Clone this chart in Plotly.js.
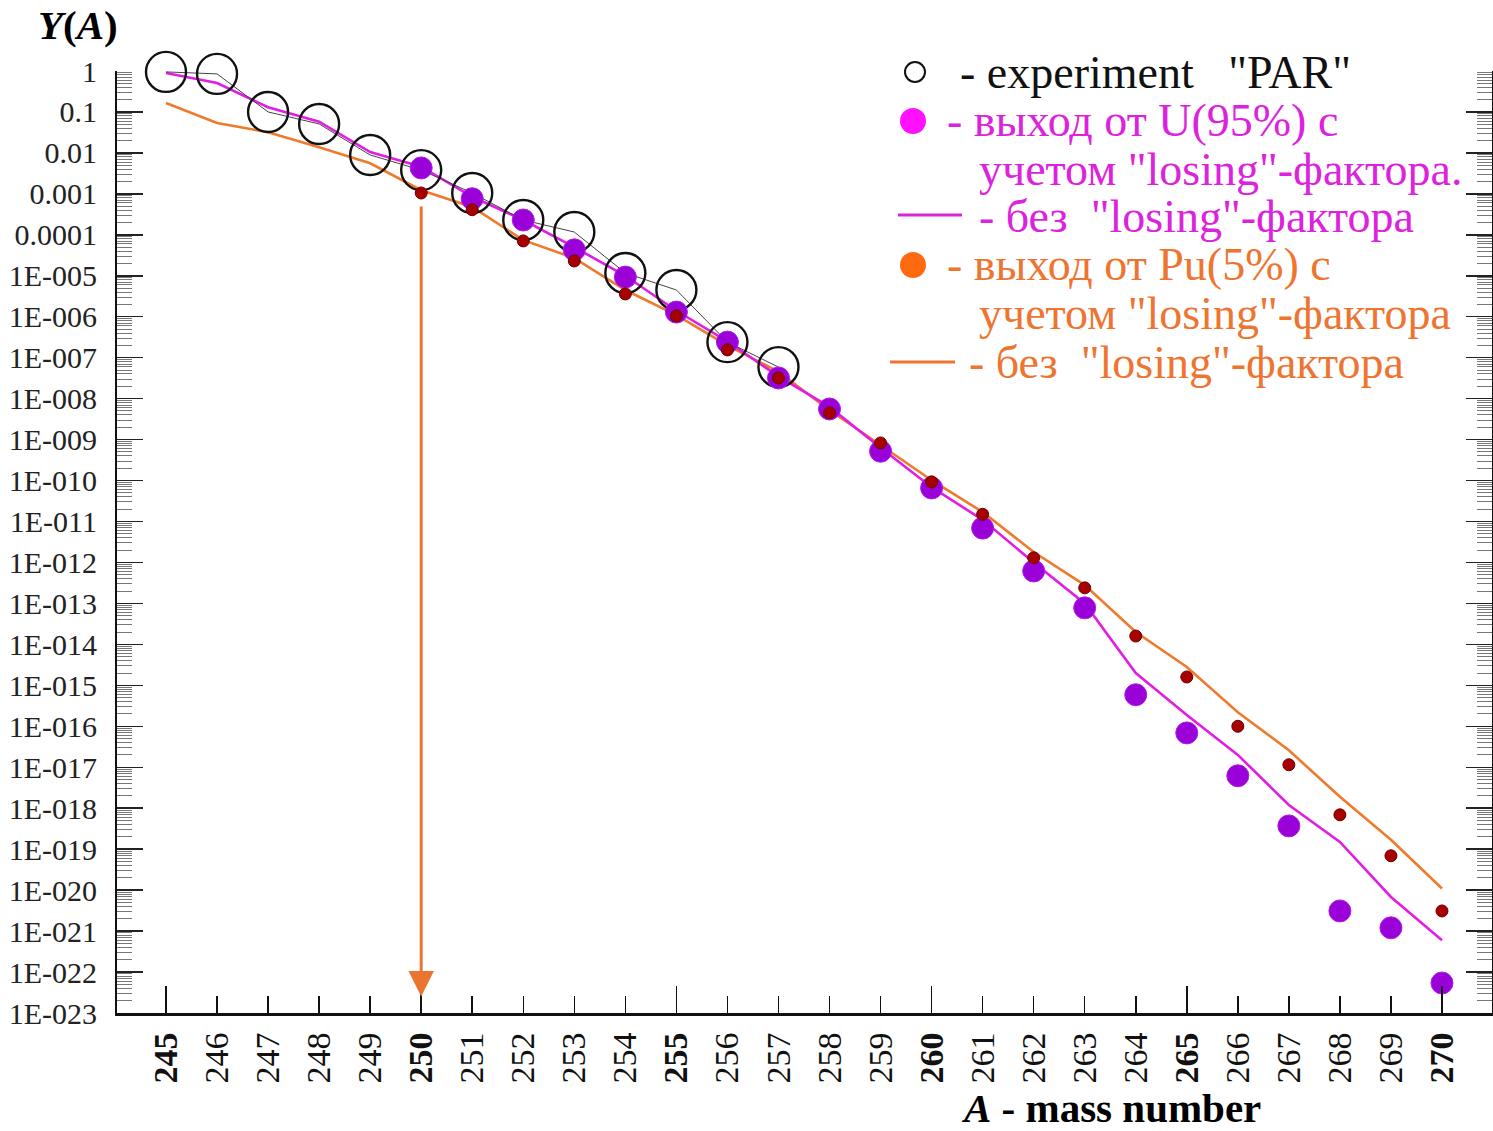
<!DOCTYPE html>
<html>
<head>
<meta charset="utf-8">
<script src="https://cdn.plot.ly/plotly-3.0.1.min.js"></script>
<style>
  html, body { margin: 0; padding: 0; background: #ffffff; }
  #chart { width: 1493px; height: 1131px; }
</style>
</head>
<body>
<div id="chart"></div>
<script>
// Mass numbers on the horizontal axis
const massNumbers = [245, 246, 247, 248, 249, 250, 251, 252, 253, 254, 255, 256, 257,
                     258, 259, 260, 261, 262, 263, 264, 265, 266, 267, 268, 269, 270];
const boldMassNumbers = [245, 250, 255, 260, 265, 270];

// Experiment "PAR"
const expA = [245, 246, 247, 248, 249, 250, 251, 252, 253, 254, 255, 256, 257];
const expY = [0.95, 0.85, 0.1, 0.051, 0.0089, 0.0038, 0.00105, 2.3e-4, 1.17e-4,
              1.17e-5, 4.5e-6, 2.4e-7, 5.9e-8];

// Yield from U(95%) with the "losing" factor
const uA = [250, 251, 252, 253, 254, 255, 256, 257, 258, 259, 260, 261, 262, 263,
            264, 265, 266, 267, 268, 269, 270];
const uY = [4.3e-3, 7.6e-4, 2.3e-4, 4.3e-5, 9.3e-6, 1.3e-6, 2.4e-7, 3.2e-8, 5.6e-9,
            5.2e-10, 6.6e-11, 6.9e-12, 6.2e-13, 7.8e-14, 5.9e-16, 6.9e-17, 6.2e-18,
            3.7e-19, 3.1e-21, 1.2e-21, 5.4e-23];

// U(95%) without the "losing" factor
const uNoLossY = [0.89, 0.51, 0.13, 0.058, 0.0105, 4.6e-3, 8.5e-4, 2.3e-4, 5.0e-5,
                  1.0e-5, 1.4e-6, 2.5e-7, 3.5e-8, 6.3e-9, 6.3e-10, 6.9e-11, 1.1e-11,
                  1.0e-12, 1.0e-13, 2.0e-15, 1.9e-16, 2.0e-17, 1.2e-18, 1.5e-19,
                  6.8e-21, 6.0e-22];

// Yield from Pu(5%) with the "losing" factor
const puA = [250, 251, 252, 253, 254, 255, 256, 257, 258, 259, 260, 261, 262, 263,
             264, 265, 266, 267, 268, 269, 270];
const puY = [1.05e-3, 4.1e-4, 7.1e-5, 2.3e-5, 3.6e-6, 1.05e-6, 1.55e-7, 3.2e-8, 4.5e-9,
             8.3e-10, 9.3e-11, 1.5e-11, 1.3e-12, 2.4e-13, 1.6e-14, 1.6e-15, 1.0e-16,
             1.15e-17, 6.9e-19, 6.9e-20, 3.1e-21];

// Pu(5%) without the "losing" factor
const puNoLossY = [0.166, 0.054, 0.032, 0.0138, 5.6e-3, 1.23e-3, 4.8e-4, 7.4e-5, 2.7e-5,
                   4.5e-6, 1.1e-6, 2.0e-7, 4.5e-8, 5.2e-9, 7.4e-10, 1.02e-10, 1.7e-11,
                   1.8e-12, 2.8e-13, 2.0e-14, 2.8e-15, 2.2e-16, 2.6e-17, 1.9e-18,
                   1.7e-19, 1.1e-20];

// Vertical axis labels
const yTickVals = [1, 1e-1, 1e-2, 1e-3, 1e-4, 1e-5, 1e-6, 1e-7, 1e-8, 1e-9, 1e-10, 1e-11,
                   1e-12, 1e-13, 1e-14, 1e-15, 1e-16, 1e-17, 1e-18, 1e-19, 1e-20, 1e-21,
                   1e-22, 1e-23];
const yTickText = ['1', '0.1', '0.01', '0.001', '0.0001', '1E-005', '1E-006', '1E-007',
                   '1E-008', '1E-009', '1E-010', '1E-011', '1E-012', '1E-013', '1E-014',
                   '1E-015', '1E-016', '1E-017', '1E-018', '1E-019', '1E-020', '1E-021',
                   '1E-022', '1E-023'];

// Arrow marking A = 250 (start/end in log10 of the yield)
const arrowA = 250;
const arrowFromLog = -3.27;
const arrowToLog = -22.6;

// Legend entries
const legendRows = [
  { text: '- experiment\u00a0\u00a0\u00a0"PAR"', color: '#111111' },
  { text: '- выход от U(95%) с', color: '#dd22dd' },
  { text: 'учетом "losing"-фактора.', color: '#dd22dd' },
  { text: '- без\u00a0\u00a0"losing"-фактора', color: '#dd22dd' },
  { text: '- выход от Pu(5%) с', color: '#ee7430' },
  { text: 'учетом "losing"-фактора', color: '#ee7430' },
  { text: '- без\u00a0\u00a0"losing"-фактора', color: '#ee7430' }
];

const FONT = '"Liberation Serif", "Times New Roman", Times, serif';

// Page geometry (pixels)
const W = 1493, H = 1131;
const M = { l: 117, r: 1, t: 71, b: 118 };
const PW = W - M.l - M.r, PH = H - M.t - M.b;
const px = (x) => (x - M.l) / PW;
const py = (y) => (H - M.b - y) / PH;

const traces = [
  {
    x: massNumbers, y: puNoLossY, mode: 'lines', type: 'scatter',
    line: { color: '#ef7a2c', width: 2.6 }, hoverinfo: 'x+y'
  },
  {
    x: massNumbers, y: uNoLossY, mode: 'lines', type: 'scatter',
    line: { color: '#e21ee2', width: 2.6 }, hoverinfo: 'x+y'
  },
  {
    x: expA, y: expY, mode: 'lines+markers', type: 'scatter',
    line: { color: '#444444', width: 1 },
    marker: { symbol: 'circle-open', size: 40, color: '#111111', line: { width: 2.4, color: '#111111' } },
    cliponaxis: false
  },
  {
    x: uA, y: uY, mode: 'markers', type: 'scatter',
    marker: { size: 22, color: '#9a00d8', line: { width: 1, color: '#b020e8' } },
    cliponaxis: false
  },
  {
    x: puA, y: puY, mode: 'markers', type: 'scatter',
    marker: { size: 12, color: '#a80000', line: { width: 1, color: '#6a0000' } },
    cliponaxis: false
  }
];

const xTickText = massNumbers.map(a => boldMassNumbers.includes(a) ? '<b>' + a + '</b>' : String(a));

const annotations = [
  {
    xref: 'paper', yref: 'paper', x: px(78), y: py(25),
    xanchor: 'center', yanchor: 'middle', showarrow: false,
    text: '<b><i>Y</i>(<i>A</i>)</b>', font: { family: FONT, size: 41, color: '#000' }
  },
  {
    xref: 'paper', yref: 'paper', x: px(1111), y: py(1108),
    xanchor: 'center', yanchor: 'middle', showarrow: false,
    text: '<b><i>A</i> - mass number</b>', font: { family: FONT, size: 41, color: '#000' }
  },
  {
    xref: 'x', yref: 'y', axref: 'x', ayref: 'y',
    x: arrowA, y: arrowToLog, ax: arrowA, ay: arrowFromLog,
    text: '', showarrow: true, arrowhead: 2, arrowsize: 1.7, arrowwidth: 3,
    arrowcolor: '#ea7430', standoff: 0, startstandoff: 0
  }
];

const legendX = [958, 945, 977, 977, 945, 977, 967];
const legendY = [72, 121, 170, 217, 265, 313, 362];
legendRows.forEach((row, i) => {
  annotations.push({
    xref: 'paper', yref: 'paper', x: px(legendX[i]), y: py(legendY[i]),
    xanchor: 'left', yanchor: 'middle', showarrow: false,
    text: row.text, font: { family: FONT, size: 46, color: row.color }
  });
});

const shapes = [
  { type: 'circle', xref: 'paper', yref: 'paper',
    x0: px(905), x1: px(925), y0: py(82), y1: py(62),
    line: { color: '#111', width: 2 }, fillcolor: 'rgba(0,0,0,0)' },
  { type: 'circle', xref: 'paper', yref: 'paper',
    x0: px(900), x1: px(926), y0: py(134), y1: py(108),
    line: { color: '#ff00ff', width: 0 }, fillcolor: '#ff10ff' },
  { type: 'line', xref: 'paper', yref: 'paper',
    x0: px(898), x1: px(962), y0: py(215), y1: py(215),
    line: { color: '#dd22dd', width: 3 } },
  { type: 'circle', xref: 'paper', yref: 'paper',
    x0: px(900), x1: px(926), y0: py(278), y1: py(252),
    line: { color: '#ff6a10', width: 0 }, fillcolor: '#ff6a10' },
  { type: 'line', xref: 'paper', yref: 'paper',
    x0: px(890), x1: px(955), y0: py(362), y1: py(362),
    line: { color: '#ee7430', width: 3 } }
];

const layout = {
  width: W, height: H,
  margin: M,
  paper_bgcolor: '#ffffff', plot_bgcolor: '#ffffff',
  showlegend: false,
  font: { family: FONT, color: '#222' },
  xaxis: {
    range: [244.04, 270.98], fixedrange: true,
    tickmode: 'array', tickvals: massNumbers, ticktext: xTickText,
    ticks: 'inside', ticklen: 17, tickwidth: 1.5, tickcolor: '#111',
    tickangle: -90, ticklabelstandoff: 3,
    tickfont: { family: FONT, size: 34, color: '#111' },
    showline: true, linecolor: '#111', linewidth: 3,
    showgrid: false, zeroline: false
  },
  xaxis2: {
    overlaying: 'x', anchor: 'y', side: 'bottom',
    range: [244.04, 270.98], fixedrange: true,
    tickmode: 'array', tickvals: boldMassNumbers,
    ticks: 'inside', ticklen: 27, tickwidth: 1.5, tickcolor: '#111',
    showticklabels: false, showline: false, showgrid: false, zeroline: false
  },
  yaxis: {
    type: 'log', range: [-23, 0], fixedrange: true,
    tickmode: 'array', tickvals: yTickVals, ticktext: yTickText,
    ticks: 'inside', ticklen: 26, tickwidth: 1.5, tickcolor: '#222',
    minor: { dtick: 'D1', ticks: 'inside', ticklen: 15, tickwidth: 1, tickcolor: '#777', showgrid: false },
    ticklabelstandoff: 12,
    tickfont: { family: FONT, size: 30, color: '#222' },
    showline: true, linecolor: '#111', linewidth: 2,
    mirror: 'ticks',
    showgrid: false, zeroline: false
  },
  annotations: annotations,
  shapes: shapes
};

// overlay axis carrying the longer ticks at every fifth mass number
traces.push({
  x: expA, y: expY, xaxis: 'x2', yaxis: 'y', mode: 'markers', type: 'scatter',
  marker: { size: 1, opacity: 0 }, hoverinfo: 'skip'
});

Plotly.newPlot('chart', traces, layout, { displayModeBar: false, staticPlot: true });
</script>
</body>
</html>
